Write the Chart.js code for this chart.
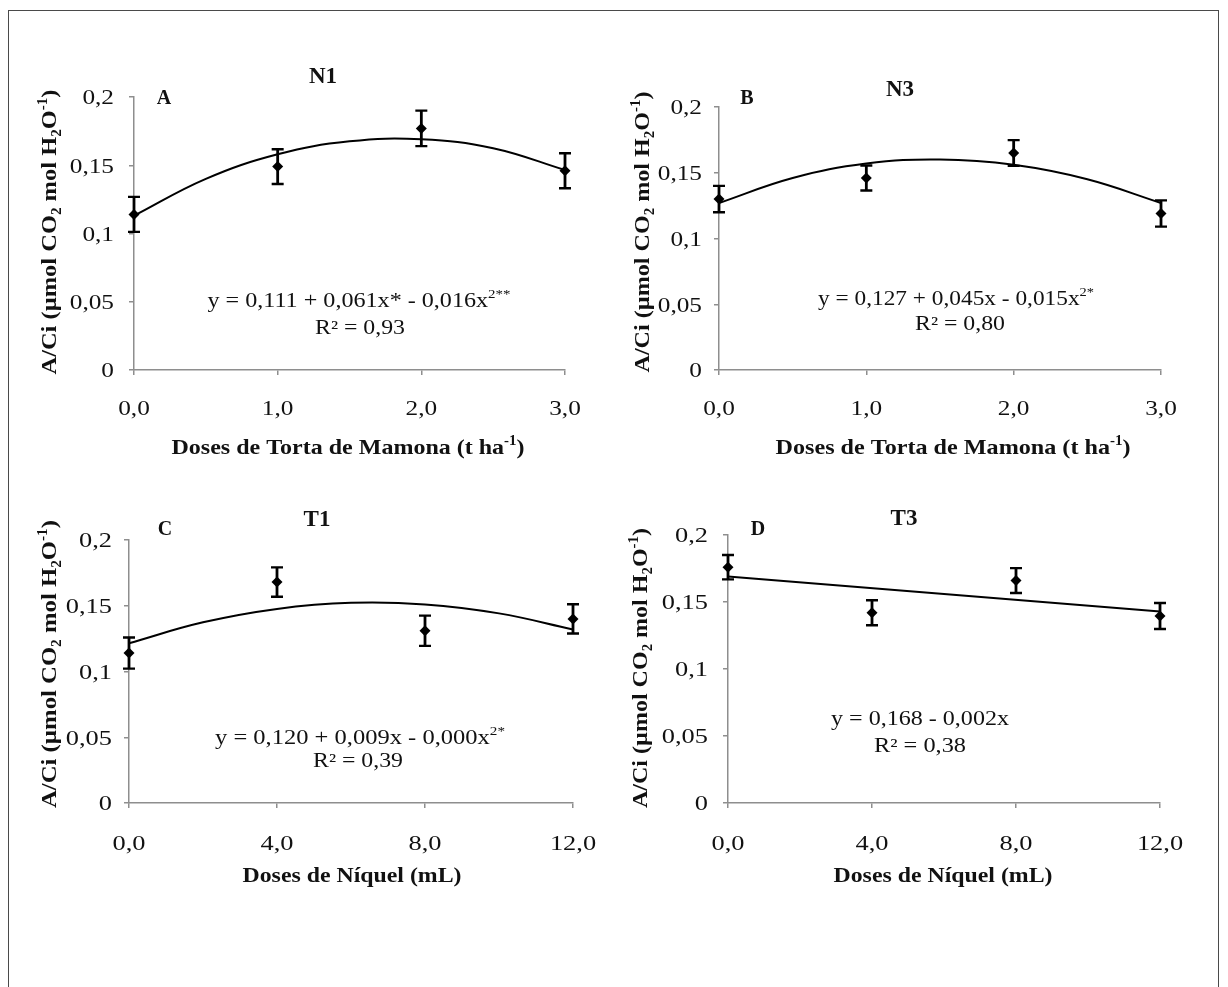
<!DOCTYPE html>
<html><head><meta charset="utf-8">
<script src="https://cdn.jsdelivr.net/npm/chart.js@4.4.0/dist/chart.umd.min.js"></script>
<style>
html,body{margin:0;padding:0;background:#fff;}
body{width:1228px;height:987px;position:relative;overflow:hidden;}
#frame{position:absolute;left:8px;top:10px;width:1211px;height:1000px;border:1.5px solid #4a4a4a;box-sizing:border-box;}
canvas{position:absolute;left:0;top:0;}
</style></head><body>
<div id="frame"></div>
<canvas id="cA" width="1228" height="987"></canvas>
<canvas id="cB" width="1228" height="987"></canvas>
<canvas id="cC" width="1228" height="987"></canvas>
<canvas id="cD" width="1228" height="987"></canvas>
<script>
// ---------- data ----------
const doseTorta = [0, 1, 2, 3];
const doseNiquel = [0, 4, 8, 12];

const valuesN1 = [0.114, 0.149, 0.177, 0.146];
const errorsN1 = [0.0128, 0.0127, 0.013, 0.0128];
const valuesN3 = [0.130, 0.146, 0.165, 0.119];
const errorsN3 = [0.010, 0.0095, 0.0098, 0.010];
const valuesT1 = [0.114, 0.168, 0.131, 0.140];
const errorsT1 = [0.0118, 0.0112, 0.0115, 0.0111];
const valuesT3 = [0.176, 0.142, 0.166, 0.1395];
const errorsT3 = [0.0091, 0.0093, 0.0093, 0.0097];

const trendXTorta = [0, 0.5, 1, 1.5, 2, 2.5, 3];
const trendN1 = [0.113, 0.140, 0.158, 0.1675, 0.169, 0.1625, 0.1465];
const trendN3 = [0.127, 0.146, 0.157, 0.160, 0.156, 0.145, 0.127];
const trendXNiquel = [0, 2, 4, 6, 8, 10, 12];
const trendT1 = [0.1215, 0.1374, 0.1476, 0.1522, 0.151, 0.1442, 0.132];
const trendXT3 = [0, 12];
const trendT3 = [0.169, 0.143];

const yTickValues = [0, 0.05, 0.1, 0.15, 0.2];
const yTickLabels = ['0', '0,05', '0,1', '0,15', '0,2'];
const xTickTorta = [0, 1, 2, 3];
const xLabelTorta = ['0,0', '1,0', '2,0', '3,0'];
const xTickNiquel = [0, 4, 8, 12];
const xLabelNiquel = ['0,0', '4,0', '8,0', '12,0'];

const eqN1 = 'y = 0,111 + 0,061x* - 0,016x', eqN1sup = '2**', r2N1 = 'R² = 0,93';
const eqN3 = 'y = 0,127 + 0,045x - 0,015x', eqN3sup = '2*', r2N3 = 'R² = 0,80';
const eqT1 = 'y = 0,120 + 0,009x - 0,000x', eqT1sup = '2*', r2T1 = 'R² = 0,39';
const eqT3 = 'y = 0,168 - 0,002x', r2T3 = 'R² = 0,38';

// ---------- layout / style ----------
const W = 1228, H = 987, YW = 40, XH = 40;
const FONT = '"Liberation Serif","Times New Roman",Times,serif';
const AXIS = '#8e8e8e';
const INK = '#111';

const yTitle = [{t:'A/Ci (µmol CO'},{t:'2',sub:1},{t:' mol H'},{t:'2',sub:1},{t:'O'},{t:'-1',sup:1},{t:')'}];
const xTitleTorta = [{t:'Doses de Torta de Mamona (t ha'},{t:'-1',sup:1},{t:')'}];
const xTitleNiquel = [{t:'Doses de Níquel (mL)'}];

function fontOf(size, bold){ return (bold ? 'bold ' : '') + size + 'px ' + FONT; }

function drawRich(ctx, segs, cx, cy, o){
  const size = o.size, bold = !!o.bold;
  ctx.save();
  let total = 0;
  const widths = segs.map(s => {
    const sz = (s.sub || s.sup) ? size * 0.62 : size;
    ctx.font = fontOf(sz, bold);
    const w = ctx.measureText(s.t).width;
    total += w;
    return w;
  });
  const sx = o.width ? o.width / total : (o.sx || 1);
  ctx.translate(cx, cy);
  if (o.rotate) ctx.rotate(-Math.PI / 2);
  ctx.scale(sx, 1);
  ctx.fillStyle = INK;
  ctx.textBaseline = 'alphabetic';
  ctx.textAlign = 'left';
  const base = size * 0.34;
  let x = o.align === 'right' ? -total : (o.align === 'left' ? 0 : -total / 2);
  segs.forEach((s, i) => {
    const sz = (s.sub || s.sup) ? size * 0.62 : size;
    ctx.font = fontOf(sz, bold);
    let y = base;
    if (s.sub) y += size * 0.2;
    if (s.sup) y -= size * 0.42;
    ctx.fillText(s.t, x, y);
    x += widths[i];
  });
  ctx.restore();
}

const panels = [
  { id:'cA', area:{l:134, t:97, r:565, b:370}, xMax:3, xTicks:xTickTorta, xLabels:xLabelTorta,
    xs:doseTorta, ys:valuesN1, es:errorsN1, tx:trendXTorta, ty:trendN1, tickSx:1.15, xLabOff:38, yLabGap:20,
    texts:[
      {segs:[{t:'N1'}], x:323, y:75, size:23, bold:1},
      {segs:[{t:'A'}], x:164, y:97, size:20, bold:1},
      {segs:[{t:eqN1},{t:eqN1sup,sup:1}], x:359, y:300, size:20, width:303},
      {segs:[{t:r2N1}], x:360, y:327, size:20, width:90},
      {segs:yTitle, x:49, y:232, size:22, bold:1, rotate:1, width:285},
      {segs:xTitleTorta, x:348, y:447, size:22, bold:1, width:353}
    ]},
  { id:'cB', area:{l:719, t:107, r:1161, b:370}, xMax:3, xTicks:xTickTorta, xLabels:xLabelTorta,
    xs:doseTorta, ys:valuesN3, es:errorsN3, tx:trendXTorta, ty:trendN3, tickSx:1.15, xLabOff:38, yLabGap:17,
    texts:[
      {segs:[{t:'N3'}], x:900, y:88, size:23, bold:1},
      {segs:[{t:'B'}], x:747, y:97, size:20, bold:1},
      {segs:[{t:eqN3},{t:eqN3sup,sup:1}], x:956, y:298, size:20, width:276},
      {segs:[{t:r2N3}], x:960, y:323, size:20, width:90},
      {segs:yTitle, x:642, y:232, size:22, bold:1, rotate:1, width:281},
      {segs:xTitleTorta, x:953, y:447, size:22, bold:1, width:355}
    ]},
  { id:'cC', area:{l:129, t:540, r:573, b:803}, xMax:12, xTicks:xTickNiquel, xLabels:xLabelNiquel,
    xs:doseNiquel, ys:valuesT1, es:errorsT1, tx:trendXNiquel, ty:trendT1, tickSx:1.2, xLabOff:40, yLabGap:17,
    texts:[
      {segs:[{t:'T1'}], x:317, y:518, size:23, bold:1},
      {segs:[{t:'C'}], x:165, y:528, size:20, bold:1},
      {segs:[{t:eqT1},{t:eqT1sup,sup:1}], x:360, y:737, size:20, width:290},
      {segs:[{t:r2T1}], x:358, y:760, size:20, width:90},
      {segs:yTitle, x:49, y:664, size:22, bold:1, rotate:1, width:288},
      {segs:xTitleNiquel, x:352, y:875, size:22, bold:1, width:219}
    ]},
  { id:'cD', area:{l:728, t:535, r:1160, b:803}, xMax:12, xTicks:xTickNiquel, xLabels:xLabelNiquel,
    xs:doseNiquel, ys:valuesT3, es:errorsT3, tx:trendXT3, ty:trendT3, tickSx:1.2, xLabOff:40, yLabGap:20,
    texts:[
      {segs:[{t:'T3'}], x:904, y:517, size:23, bold:1},
      {segs:[{t:'D'}], x:758, y:528, size:20, bold:1},
      {segs:[{t:eqT3}], x:920, y:718, size:20, width:178},
      {segs:[{t:r2T3}], x:920, y:745, size:20, width:92},
      {segs:yTitle, x:640, y:668, size:22, bold:1, rotate:1, width:280},
      {segs:xTitleNiquel, x:943, y:875, size:22, bold:1, width:219}
    ]}
];

function errPlugin(p){
  return {
    id:'errbars_' + p.id,
    afterDatasetsDraw(chart){
      const ctx = chart.ctx, xs = chart.scales.x, ys = chart.scales.y;
      ctx.save();
      ctx.strokeStyle = '#000';
      p.xs.forEach((xv, i) => {
        const px = xs.getPixelForValue(xv);
        const top = ys.getPixelForValue(p.ys[i] + p.es[i]);
        const bot = ys.getPixelForValue(p.ys[i] - p.es[i]);
        ctx.lineWidth = 2.8;
        ctx.beginPath(); ctx.moveTo(px, top); ctx.lineTo(px, bot); ctx.stroke();
        ctx.lineWidth = 2.4;
        ctx.beginPath();
        ctx.moveTo(px - 6, top); ctx.lineTo(px + 6, top);
        ctx.moveTo(px - 6, bot); ctx.lineTo(px + 6, bot);
        ctx.stroke();
      });
      ctx.restore();
    }
  };
}

function textPlugin(p){
  return {
    id:'texts_' + p.id,
    afterDraw(chart){
      const ctx = chart.ctx, xs = chart.scales.x, ys = chart.scales.y, a = chart.chartArea;
      yTickValues.forEach((v, i) => {
        drawRich(ctx, [{t:yTickLabels[i]}], a.left - p.yLabGap, ys.getPixelForValue(v), {size:22, sx:p.tickSx, align:'right'});
      });
      p.xTicks.forEach((v, i) => {
        drawRich(ctx, [{t:p.xLabels[i]}], xs.getPixelForValue(v), a.bottom + p.xLabOff, {size:22, sx:p.tickSx});
      });
      p.texts.forEach(t => drawRich(ctx, t.segs, t.x, t.y, t));
    }
  };
}

panels.forEach(p => {
  new Chart(document.getElementById(p.id), {
    type:'scatter',
    data:{ datasets:[
      { label:'ajuste', data:p.tx.map((x, i) => ({x, y:p.ty[i]})), showLine:true, borderColor:'#000',
        borderWidth:2, pointRadius:0, tension:0.4, order:2, clip:false },
      { label:'média', data:p.xs.map((x, i) => ({x, y:p.ys[i]})), showLine:false, pointStyle:'rectRot',
        pointRadius:5.5, backgroundColor:'#000', borderColor:'#000', borderWidth:0, order:1, clip:false }
    ]},
    options:{
      responsive:false, animation:false, events:[], devicePixelRatio:1,
      layout:{ padding:{ left:p.area.l - YW, top:p.area.t, right:W - p.area.r, bottom:H - p.area.b - XH } },
      plugins:{ legend:{display:false}, tooltip:{enabled:false}, title:{display:false} },
      scales:{
        x:{ type:'linear', position:'bottom', min:0, max:p.xMax,
            afterBuildTicks:s => { s.ticks = p.xTicks.map(v => ({value:v})); },
            afterFit:s => { s.height = XH; },
            ticks:{display:false},
            grid:{ drawOnChartArea:false, drawTicks:true, tickLength:5, color:AXIS, lineWidth:1.5 },
            border:{ display:true, color:AXIS, width:1.5 } },
        y:{ type:'linear', position:'left', min:0, max:0.2,
            afterBuildTicks:s => { s.ticks = yTickValues.map(v => ({value:v})); },
            afterFit:s => { s.width = YW; },
            ticks:{display:false},
            grid:{ drawOnChartArea:false, drawTicks:true, tickLength:5, color:AXIS, lineWidth:1.5 },
            border:{ display:true, color:AXIS, width:1.5 } }
      }
    },
    plugins:[errPlugin(p), textPlugin(p)]
  });
});
</script>
</body></html>
